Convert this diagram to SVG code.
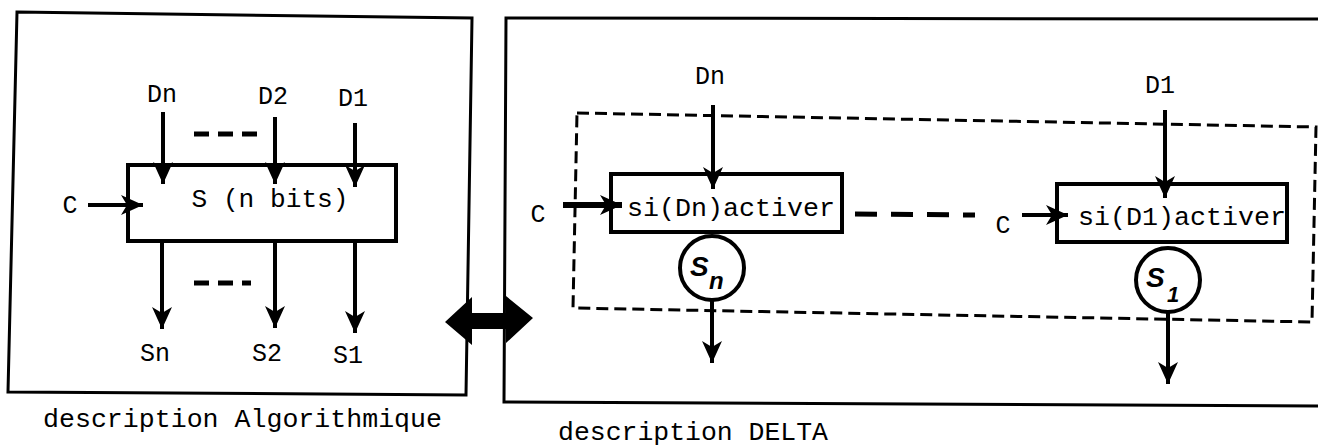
<svg xmlns="http://www.w3.org/2000/svg" width="1318" height="446" viewBox="0 0 1318 446">
<style>
.frame{fill:none;stroke:#000;stroke-width:3}
.box{fill:#fff;stroke:#000;stroke-width:4}
.wire{fill:none;stroke:#000;stroke-width:4}
.dash{fill:none;stroke:#000;stroke-width:3;stroke-dasharray:12 6}
.gap{fill:none;stroke:#000;stroke-width:5;stroke-dasharray:15 9}
.t{font-family:"Liberation Mono","DejaVu Sans Mono",monospace;font-size:25px;fill:#000}
.s{font-family:"Liberation Sans",Arial,sans-serif;font-weight:bold;font-style:italic;fill:#000}
</style>
<defs>
<marker id="ah" markerUnits="userSpaceOnUse" markerWidth="22" markerHeight="22" refX="22" refY="11" orient="auto">
<path d="M0,1 L22,11 L0,21 L6,11 Z" fill="#000"/>
</marker>
</defs>
<rect width="1318" height="446" fill="#fff"/>

<g id="frame-algo">
<path class="frame" d="M17,12 L472,18 L466,395 L8,392 Z"/>
<text class="t" x="43" y="427" textLength="399" lengthAdjust="spacingAndGlyphs">description Algorithmique</text>
</g>

<g id="frame-delta">
<path class="frame" d="M1318,19 L506,18 L504,402 L1318,406"/>
<text class="t" x="558" y="440" textLength="270" lengthAdjust="spacingAndGlyphs">description DELTA</text>
</g>

<g id="register-S">
<rect class="box" x="128" y="165" width="268" height="76"/>
<text class="t" x="270" y="207" text-anchor="middle" textLength="157" lengthAdjust="spacingAndGlyphs">S (n bits)</text>
</g>

<g id="labels-algo">
<text class="t" x="162" y="102" text-anchor="middle">Dn</text>
<text class="t" x="273" y="104" text-anchor="middle">D2</text>
<text class="t" x="353" y="106" text-anchor="middle">D1</text>
<text class="t" x="70" y="213" text-anchor="middle">C</text>
<text class="t" x="155" y="361" text-anchor="middle">Sn</text>
<text class="t" x="267" y="361" text-anchor="middle">S2</text>
<text class="t" x="348" y="363" text-anchor="middle">S1</text>
</g>

<g id="delta-group">
<path class="dash" d="M577,113 L1316,127 L1312,322 L573,308 Z"/>
</g>

<g id="cell-n">
<rect class="box" x="611" y="174" width="231" height="58"/>
<text class="t" x="627" y="216" textLength="208" lengthAdjust="spacingAndGlyphs">si(Dn)activer</text>
<circle cx="712" cy="268" r="32" fill="#fff" stroke="#000" stroke-width="4"/>
<text class="s" x="690" y="276" font-size="28">S</text>
<text class="s" x="709" y="289" font-size="24">n</text>
<text class="t" x="710" y="84" text-anchor="middle">Dn</text>
<text class="t" x="538" y="222" text-anchor="middle">C</text>
</g>

<g id="cell-1">
<rect class="box" x="1057" y="184" width="230" height="58"/>
<text class="t" x="1078" y="225" textLength="208" lengthAdjust="spacingAndGlyphs">si(D1)activer</text>
<circle cx="1168" cy="280" r="32" fill="#fff" stroke="#000" stroke-width="4"/>
<text class="s" x="1146" y="287" font-size="28">S</text>
<text class="s" x="1167" y="302" font-size="22">1</text>
<text class="t" x="1160" y="93" text-anchor="middle">D1</text>
<text class="t" x="1003" y="233" text-anchor="middle">C</text>
</g>

<g id="connectors">
<line class="wire" x1="163" y1="112" x2="163" y2="184" marker-end="url(#ah)"/>
<line class="wire" x1="275" y1="117" x2="275" y2="184" marker-end="url(#ah)"/>
<line class="wire" x1="355" y1="123" x2="355" y2="187" marker-end="url(#ah)"/>
<line class="wire" x1="88" y1="205" x2="143" y2="205" marker-end="url(#ah)"/>
<line class="gap" x1="194" y1="134" x2="257" y2="134"/>
<line class="wire" x1="162" y1="241" x2="162" y2="329" marker-end="url(#ah)"/>
<line class="wire" x1="275" y1="243" x2="275" y2="328" marker-end="url(#ah)"/>
<line class="wire" x1="355" y1="243" x2="355" y2="333" marker-end="url(#ah)"/>
<line class="gap" x1="194" y1="283" x2="251" y2="283"/>
<path d="M445,322 L472,297 L472,313 L506,313 L506,296 L533,318 L506,343 L506,329 L472,329 L472,345 Z" fill="#000"/>
<line class="wire" x1="713" y1="105" x2="713" y2="189" marker-end="url(#ah)"/>
<line x1="563" y1="205" x2="622" y2="205" stroke="#000" stroke-width="6" marker-end="url(#ah)"/>
<line class="wire" x1="712" y1="300" x2="712" y2="363" marker-end="url(#ah)"/>
<line class="gap" x1="855" y1="214" x2="975" y2="215" style="stroke-dasharray:22 14"/>
<line class="wire" x1="1165" y1="110" x2="1165" y2="198" marker-end="url(#ah)"/>
<line class="wire" x1="1022" y1="215" x2="1068" y2="215" marker-end="url(#ah)"/>
<line class="wire" x1="1168" y1="312" x2="1168" y2="384" marker-end="url(#ah)"/>
</g>
</svg>
